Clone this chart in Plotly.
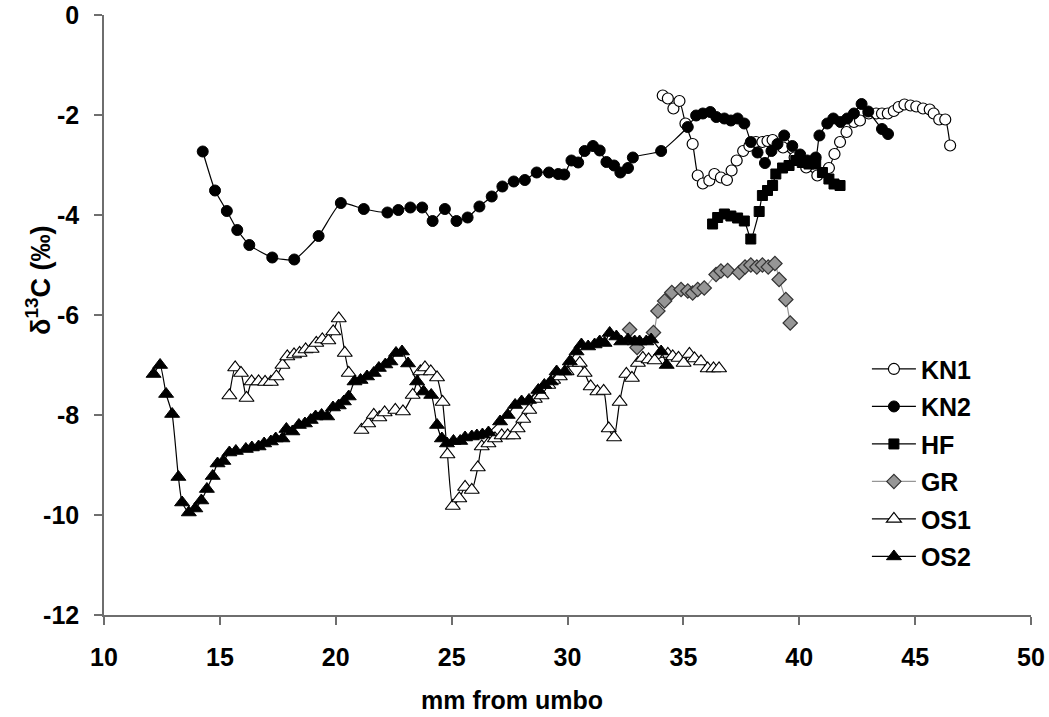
import plotly.graph_objects as go

# ---- data ----
kn1_x = [34.11, 34.33, 34.57, 34.83, 35.09, 35.40, 35.62, 35.84, 36.12, 36.34, 36.62, 36.88, 37.08, 37.30,
         37.58, 37.85, 38.13, 38.41, 38.63, 38.85, 39.30, 39.80, 40.30, 40.78, 41.28, 41.52, 41.76, 42.04,
         42.36, 42.62, 43.00, 43.32, 43.57, 43.82, 44.08, 44.29, 44.54, 44.80, 45.05, 45.34, 45.63, 45.80,
         46.04, 46.30, 46.51]
kn1_y = [-1.61, -1.67, -1.87, -1.72, -2.17, -2.58, -3.21, -3.37, -3.31, -3.18, -3.25, -3.30, -3.11, -2.91,
         -2.72, -2.62, -2.54, -2.54, -2.52, -2.50, -2.65, -2.85, -3.05, -3.21, -3.06, -2.78, -2.54, -2.34,
         -2.14, -2.11, -1.97, -1.97, -1.97, -1.97, -1.92, -1.84, -1.79, -1.81, -1.83, -1.87, -1.89, -1.97,
         -2.09, -2.09, -2.61]

kn2_x = [14.26, 14.79, 15.30, 15.75, 16.27, 17.26, 18.21, 19.26, 20.22, 21.21, 22.23, 22.70, 23.22, 23.73,
         24.18, 24.71, 25.21, 25.69, 26.20, 26.73, 27.19, 27.68, 28.16, 28.67, 29.20, 29.60, 29.86, 30.17,
         30.46, 30.74, 31.10, 31.39, 31.68, 32.01, 32.28, 32.61, 32.82, 34.04, 35.19, 35.55, 35.84, 36.16,
         36.42, 36.77, 37.05, 37.34, 37.63, 37.91, 38.20, 38.52, 38.80, 39.06, 39.35, 39.70, 40.04, 40.35,
         40.71, 40.87, 41.21, 41.47, 41.78, 42.07, 42.36, 42.69, 42.98, 43.57, 43.83]
kn2_y = [-2.73, -3.51, -3.92, -4.30, -4.60, -4.85, -4.89, -4.42, -3.76, -3.88, -3.95, -3.90, -3.85, -3.85,
         -4.12, -3.88, -4.12, -4.05, -3.83, -3.63, -3.43, -3.33, -3.30, -3.15, -3.15, -3.18, -3.19, -2.91,
         -2.95, -2.72, -2.62, -2.71, -2.94, -3.01, -3.15, -3.06, -2.85, -2.72, -2.24, -2.01, -1.97, -1.94,
         -2.04, -2.07, -2.11, -2.07, -2.17, -2.54, -2.75, -2.96, -2.72, -2.58, -2.41, -2.62, -2.79, -2.91,
         -2.85, -2.41, -2.17, -2.07, -2.14, -2.07, -1.97, -1.78, -1.93, -2.28, -2.38]

hf_x = [36.26, 36.48, 36.77, 37.05, 37.34, 37.63, 37.91, 38.27, 38.41, 38.63, 38.85, 38.99, 39.28, 39.56,
        39.85, 40.13, 40.42, 40.71, 41.00, 41.28, 41.50, 41.76]
hf_y = [-4.18, -4.05, -3.98, -4.02, -4.06, -4.12, -4.48, -3.93, -3.61, -3.51, -3.41, -3.18, -3.06, -3.01,
        -2.91, -2.95, -2.98, -2.98, -3.15, -3.28, -3.38, -3.41]

gr_x = [32.68, 33.00, 33.71, 33.90, 34.19, 34.50, 34.90, 35.19, 35.40, 35.62, 35.90, 36.41, 36.62, 36.91,
        37.41, 37.66, 37.91, 38.17, 38.41, 38.66, 38.95, 39.13, 39.42, 39.61]
gr_y = [-6.29, -6.65, -6.35, -5.92, -5.72, -5.55, -5.49, -5.52, -5.56, -5.49, -5.46, -5.19, -5.12, -5.11,
        -5.15, -5.04, -5.00, -5.04, -5.00, -5.04, -4.97, -5.29, -5.69, -6.16]

os1_x = [15.41, 15.66, 15.91, 16.15, 16.37, 16.67, 16.95, 17.20, 17.44, 17.70, 17.91, 18.20, 18.44, 18.70,
         18.96, 19.16, 19.42, 19.68, 19.89, 20.13, 20.39, 20.56, None, 21.11, 21.40, 21.64, 21.88, 22.11,
         22.57, 22.90, 23.32, 23.65, 23.85, 24.10, 24.37, 24.61, 24.82, 25.05, 25.33, 25.58, 25.87, 26.13,
         26.30, 26.59, 26.87, 27.16, 27.42, 27.66, 27.85, 28.09, 28.35, 28.59, 28.88, 29.17, 29.38, 29.67,
         29.96, 30.17, 30.53, 30.74, 31.00, 31.29, 31.56, 31.78, 32.01, 32.25, 32.54, 32.78, 33.04, 33.25,
         33.50, 33.76, 34.33, 34.54, 34.79, 35.01, 35.26, 35.48, 35.76, 36.05, 36.30, 36.54]
os1_y = [-7.61, -7.05, -7.16, -7.66, -7.33, -7.33, -7.34, -7.34, -7.23, -7.00, -6.83, -6.79, -6.76, -6.69,
         -6.68, -6.56, -6.49, -6.51, -6.33, -6.07, -6.76, -7.16, None, -8.30, -8.17, -8.00, -8.05, -7.95,
         -7.90, -7.93, -7.60, -7.13, -7.05, -7.13, -7.25, -7.74, -8.79, -9.82, -9.67, -9.44, -9.50, -9.05,
         -8.63, -8.57, -8.47, -8.41, -8.41, -8.41, -8.27, -8.08, -7.90, -7.68, -7.61, -7.40, -7.30, -7.23,
         -7.13, -6.96, -6.96, -7.16, -7.43, -7.53, -7.52, -8.27, -8.45, -7.74, -7.18, -7.26, -6.96, -6.86,
         -6.89, -6.91, -6.78, -6.83, -6.86, -6.96, -6.78, -6.87, -6.93, -7.07, -7.07, -7.07]

os2_x = [12.14, 12.42, 12.68, 12.94, 13.21, 13.37, 13.66, 13.94, 14.20, 14.44, 14.69, 14.90, 15.15, 15.41,
         15.69, 16.12, 16.38, 16.67, 16.91, 17.20, 17.41, 17.70, 17.87, 18.13, 18.41, 18.67, 18.92, 19.13,
         19.39, 19.63, 19.88, 20.13, 20.35, 20.56, 20.81, 21.07, 21.35, 21.64, 21.86, 22.14, 22.36, 22.60,
         22.86, 23.12, 23.51, 23.79, 24.12, 24.37, 24.58, 24.80, 25.08, 25.37, 25.58, 25.87, 26.09, 26.33,
         26.59, 27.09, 27.42, 27.74, 28.02, 28.34, 28.74, 29.00, 29.28, 29.53, 29.88, 30.10, 30.39, 30.60,
         30.89, 31.17, 31.39, 31.60, 31.82, 32.11, 32.32, 32.61, 32.90, 33.11, 33.40, 33.61, 34.04, 34.28]
os2_y = [-7.18, -7.00, -7.58, -7.98, -9.24, -9.75, -9.95, -9.87, -9.71, -9.48, -9.22, -8.97, -8.92, -8.75,
         -8.72, -8.68, -8.65, -8.63, -8.57, -8.53, -8.47, -8.47, -8.28, -8.33, -8.20, -8.17, -8.10, -8.03,
         -8.00, -8.03, -7.85, -7.81, -7.73, -7.63, -7.33, -7.30, -7.23, -7.16, -7.06, -6.99, -6.93, -6.76,
         -6.73, -6.97, -7.33, -7.53, -7.60, -8.20, -8.47, -8.57, -8.52, -8.52, -8.45, -8.43, -8.41, -8.39,
         -8.35, -8.13, -8.00, -7.80, -7.73, -7.70, -7.50, -7.40, -7.33, -7.13, -7.13, -6.93, -6.73, -6.59,
         -6.63, -6.59, -6.53, -6.56, -6.36, -6.43, -6.53, -6.49, -6.53, -6.53, -6.53, -6.49, -6.73, -7.00]

x_ticks = [10, 15, 20, 25, 30, 35, 40, 45, 50]
y_ticks = [0, -2, -4, -6, -8, -10, -12]

FONT = "Liberation Sans, Arial, sans-serif"
FS = 25

series = [
    ("KN1", kn1_x, kn1_y, dict(symbol="circle", size=11, color="white", line=dict(color="black", width=1.2)), "black"),
    ("KN2", kn2_x, kn2_y, dict(symbol="circle", size=11, color="black", line=dict(color="black", width=1)), "black"),
    ("HF", hf_x, hf_y, dict(symbol="square", size=10, color="black", line=dict(color="black", width=1)), "black"),
    ("GR", gr_x, gr_y, dict(symbol="diamond", size=11, color="#969696", line=dict(color="#333333", width=1.2)), "#969696"),
    ("OS1", os1_x, os1_y, dict(symbol="triangle-up", size=13, color="white", line=dict(color="black", width=1.2)), "black"),
    ("OS2", os2_x, os2_y, dict(symbol="triangle-up", size=13, color="black", line=dict(color="black", width=1)), "black"),
]

fig = go.Figure()
for name, xs, ys, mk, lc in series:
    fig.add_trace(go.Scatter(
        x=xs, y=ys, name=name, mode="lines+markers",
        line=dict(color=lc, width=1.2, shape="spline", smoothing=0.5),
        marker=mk, legendgroup=name, connectgaps=False,
    ))

axis_col = "#6e6e6e"
bold = dict(family=FONT, size=FS, color="black", weight="bold")
fig.update_layout(
    width=1049, height=717,
    margin=dict(l=104, r=18, t=15, b=102, autoexpand=False),
    paper_bgcolor="white", plot_bgcolor="white",
    font=bold,
    showlegend=True,
    legend=dict(x=0.823, y=0.448, xanchor="left", yanchor="top",
                font=bold, bgcolor="rgba(0,0,0,0)", tracegroupgap=2, itemwidth=44),
    xaxis=dict(range=[10, 50], tickvals=x_ticks, ticktext=[str(v) for v in x_ticks],
               showgrid=False, zeroline=False, showline=True, linecolor=axis_col, linewidth=1.5,
               ticks="outside", ticklen=8, tickcolor=axis_col, tickwidth=1.5,
               ticklabelstandoff=11, automargin=False, ticklabeloverflow="allow", tickfont=bold),
    yaxis=dict(range=[-12, 0], tickvals=y_ticks, ticktext=[str(v) for v in y_ticks],
               showgrid=False, zeroline=False, showline=True, linecolor=axis_col, linewidth=1.5,
               ticks="outside", ticklen=8, tickcolor=axis_col, tickwidth=1.5,
               ticklabelstandoff=10, automargin=False, ticklabeloverflow="allow", tickfont=bold),
    annotations=[
        dict(text="δ<sup>13</sup>C (‰)", textangle=-90, xref="paper", yref="paper",
             x=-0.071, y=0.557, xanchor="center", yanchor="middle", showarrow=False,
             font=dict(family=FONT, size=27, color="black", weight="bold")),
        dict(text="mm from umbo", xref="paper", yref="paper",
             x=0.44, y=-0.142, xanchor="center", yanchor="middle", showarrow=False, font=bold),
    ],
)

fig.write_html("out.html", config={"displayModeBar": False},
               post_script="document.body.style.margin='0';")
